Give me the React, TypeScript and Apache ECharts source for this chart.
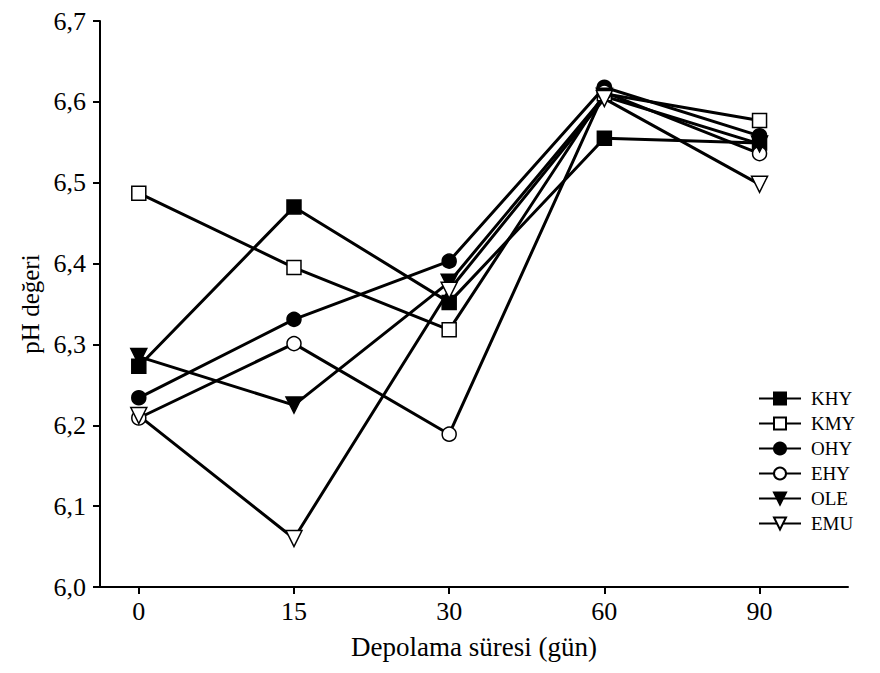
import React, { useEffect, useRef } from "react";
import * as echarts from "echarts";

const categories = ["0", "15", "30", "60", "90"];
const KHY = [6.273, 6.47, 6.352, 6.555, 6.549];
const KMY = [6.487, 6.395, 6.318, 6.61, 6.577];
const OHY = [6.234, 6.331, 6.403, 6.618, 6.558];
const EHY = [6.209, 6.301, 6.189, 6.612, 6.536];
const OLE = [6.285, 6.225, 6.377, 6.607, 6.548];
const EMU = [6.212, 6.06, 6.367, 6.604, 6.498];
const yTicks = [6.0, 6.1, 6.2, 6.3, 6.4, 6.5, 6.6, 6.7];

const FONT = "'Liberation Serif', 'Times New Roman', serif";
const DOWN_TRI = "path://M0,0 L10,0 L5,9 Z";

const seriesDefs = [
  { name: "KHY", data: KHY, symbol: "rect", fill: "#000", size: 14 },
  { name: "KMY", data: KMY, symbol: "rect", fill: "#fff", size: 14 },
  { name: "OHY", data: OHY, symbol: "circle", fill: "#000", size: 14 },
  { name: "EHY", data: EHY, symbol: "circle", fill: "#fff", size: 14 },
  { name: "OLE", data: OLE, symbol: DOWN_TRI, fill: "#000", size: 16 },
  { name: "EMU", data: EMU, symbol: DOWN_TRI, fill: "#fff", size: 16 },
];

export default function App() {
  const ref = useRef<HTMLDivElement>(null);
  useEffect(() => {
    if (!ref.current) return;
    const chart = echarts.init(ref.current, null, { renderer: "svg" });
    chart.setOption({
      animation: false,
      backgroundColor: "#fff",
      textStyle: { fontFamily: FONT, color: "#000" },
      grid: { left: 92, right: 24, top: 5, bottom: 52, containLabel: false },
      legend: {
        orient: "vertical",
        left: 745,
        top: 376,
        itemWidth: 42,
        itemHeight: 15,
        itemGap: 6,
        textStyle: {
          fontFamily: FONT,
          fontSize: 19,
          color: "#000",
          padding: [0, 0, 0, 5],
        },
        data: seriesDefs.map((s) => s.name),
      },
      xAxis: {
        type: "value",
        min: -0.25,
        max: 4.57,
        name: "Depolama süresi (gün)",
        nameLocation: "middle",
        nameGap: 46,
        nameTextStyle: { fontFamily: FONT, fontSize: 27, color: "#000" },
        axisLine: { onZero: false, lineStyle: { color: "#000", width: 2 } },
        axisTick: {
          show: true,
          customValues: [0, 1, 2, 3, 4],
          length: 7,
          inside: false,
          lineStyle: { color: "#000", width: 2 },
        },
        axisLabel: {
          customValues: [0, 1, 2, 3, 4],
          formatter: (v: number) => categories[Math.round(v)] ?? "",
          fontFamily: FONT,
          fontSize: 26,
          color: "#000",
          margin: 11,
        },
        splitLine: { show: false },
      },
      yAxis: {
        type: "value",
        min: 6.0,
        max: 6.7,
        interval: 0.1,
        name: "pH değeri",
        nameLocation: "middle",
        nameRotate: 90,
        nameGap: 56,
        nameTextStyle: { fontFamily: FONT, fontSize: 25, color: "#000" },
        axisLine: { show: true, onZero: false, lineStyle: { color: "#000", width: 2 } },
        axisTick: { show: true, length: 7, lineStyle: { color: "#000", width: 2 } },
        axisLabel: {
          customValues: yTicks,
          formatter: (v: number) => v.toFixed(1).replace(".", ","),
          fontFamily: FONT,
          fontSize: 26,
          color: "#000",
          margin: 14,
        },
        splitLine: { show: false },
      },
      series: seriesDefs.map((s) => ({
        name: s.name,
        type: "line",
        data: s.data.map((v, i) => [i, v]),
        symbol: s.symbol,
        symbolSize: s.size,
        showAllSymbol: true,
        lineStyle: { color: "#000", width: 3 },
        itemStyle: { color: s.fill, borderColor: "#000", borderWidth: 1.5 },
        emphasis: { disabled: true },
      })),
    });
    return () => chart.dispose();
  }, []);
  return <div ref={ref} style={{ width: 864, height: 657 }} />;
}
